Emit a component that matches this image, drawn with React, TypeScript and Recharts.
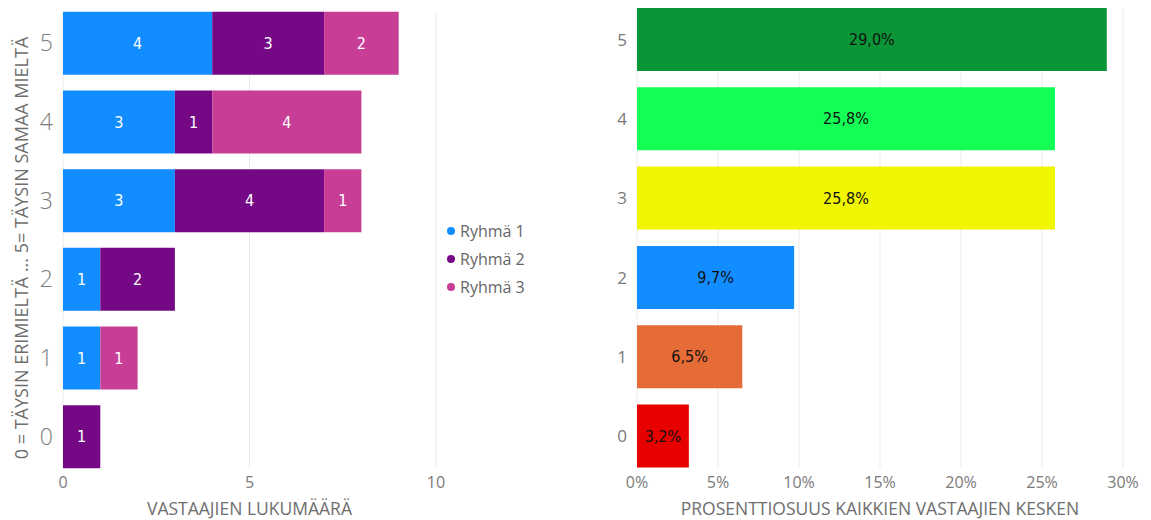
import React from "react";
import {
  BarChart,
  Bar,
  XAxis,
  YAxis,
  CartesianGrid,
  LabelList,
  Legend,
  Cell,
  Label,
} from "recharts";

// answer levels, top to bottom
const levels = ["5", "4", "3", "2", "1", "0"];

// respondents per group for each level
const group1 = [4, 3, 3, 1, 1, 0];
const group2 = [3, 1, 4, 2, 0, 1];
const group3 = [2, 4, 1, 0, 1, 0];
const groupNames = ["Ryhmä 1", "Ryhmä 2", "Ryhmä 3"];
const groupColors = ["#118DFF", "#750985", "#C83D95"];
const countTicks = [0, 5, 10];

// share of all respondents, %
const shares = [29.0, 25.8, 25.8, 9.7, 6.5, 3.2];
const shareColors = ["#0A9636", "#13FF55", "#F0F500", "#118DFF", "#E66C37", "#E80000"];
const shareTicks = [0, 5, 10, 15, 20, 25, 30];

const FONT = "'Open Sans', 'Noto Sans', sans-serif";
const LABEL_FONT = "'Liberation Sans Narrow', 'DejaVu Sans Condensed', sans-serif";
const TICK = "#7a7a7a";
const TITLE = "#6e6e6e";

const countData = levels.map((level, i) => ({
  level,
  g1: group1[i],
  g2: group2[i],
  g3: group3[i],
}));
const shareData = levels.map((level, i) => ({ level, share: shares[i] }));

const hideZero = (v: any) => (Number(v) ? v : "");
const pct = (v: any) => `${Number(v).toFixed(1).replace(".", ",")}%`;

const xTitle = (text: string) => (props: any) => {
  const vb = props.viewBox || {};
  return (
    <text
      x={vb.x + vb.width / 2}
      y={vb.y + vb.height - 5}
      textAnchor="middle"
      fill={TITLE}
      fontSize={17.5}
      fontFamily={FONT}
    >
      {text}
    </text>
  );
};

const yTitle = (text: string) => (props: any) => {
  const vb = props.viewBox || {};
  const cx = 21;
  const cy = vb.y + vb.height / 2 + 8;
  return (
    <text
      x={cx}
      y={cy}
      transform={`rotate(-90, ${cx}, ${cy})`}
      textAnchor="middle"
      dominantBaseline="central"
      fill={TITLE}
      fontSize={18}
      fontFamily={FONT}
    >
      {text}
    </text>
  );
};

function GroupLegend() {
  return (
    <div style={{ fontFamily: FONT, fontSize: 16, color: "#666" }}>
      {groupNames.map((name, i) => (
        <div key={name} style={{ height: 28.4, display: "flex", alignItems: "center" }}>
          <span
            style={{
              width: 8,
              height: 8,
              borderRadius: "50%",
              background: groupColors[i],
              marginLeft: 5,
              marginRight: 5,
            }}
          />
          <span>{name}</span>
        </div>
      ))}
    </div>
  );
}

export default function App() {
  return (
    <div
      style={{
        position: "absolute",
        left: 0,
        top: 0,
        width: 1151,
        height: 520,
        background: "#fff",
        overflow: "hidden",
      }}
    >
      <div style={{ position: "absolute", left: 0, top: 0 }}>
        <BarChart
          layout="vertical"
          width={600}
          height={520}
          data={countData}
          margin={{ top: 4, right: 164, bottom: 0, left: 0 }}
          barCategoryGap="10%"
        >
          <CartesianGrid horizontal={false} stroke="#EAEAEA" y={12} height={456} />
          <XAxis
            type="number"
            domain={[0, 10]}
            ticks={countTicks}
            interval={0}
            axisLine={false}
            tickLine={false}
            tickSize={0}
            tickMargin={1}
            height={44}
            tick={{ fill: TICK, fontSize: 16, fontFamily: FONT }}
          >
            <Label content={xTitle("VASTAAJIEN LUKUMÄÄRÄ")} />
          </XAxis>
          <YAxis
            type="category"
            dataKey="level"
            width={63}
            axisLine={false}
            tickLine={false}
            tickSize={0}
            tickMargin={10}
            tick={{ fill: TICK, fontSize: 23, fontFamily: FONT, fontWeight: 300 }}
          >
            <Label content={yTitle("0 = TÄYSIN ERIMIELTÄ ... 5= TÄYSIN SAMAA MIELTÄ")} />
          </YAxis>
          <Legend
            layout="vertical"
            align="center"
            verticalAlign="middle"
            wrapperStyle={{ left: 442, top: 216.5, width: 150 }}
            content={() => <GroupLegend />}
          />
          <Bar dataKey="g1" name={groupNames[0]} stackId="a" fill={groupColors[0]} isAnimationActive={false}>
            <LabelList dataKey="g1" position="center" formatter={hideZero} fill="#fff" fontSize={16} fontFamily={LABEL_FONT} />
          </Bar>
          <Bar dataKey="g2" name={groupNames[1]} stackId="a" fill={groupColors[1]} isAnimationActive={false}>
            <LabelList dataKey="g2" position="center" formatter={hideZero} fill="#fff" fontSize={16} fontFamily={LABEL_FONT} />
          </Bar>
          <Bar dataKey="g3" name={groupNames[2]} stackId="a" fill={groupColors[2]} isAnimationActive={false}>
            <LabelList dataKey="g3" position="center" formatter={hideZero} fill="#fff" fontSize={16} fontFamily={LABEL_FONT} />
          </Bar>
        </BarChart>
      </div>

      <div style={{ position: "absolute", left: 590, top: 0 }}>
        <BarChart
          layout="vertical"
          width={561}
          height={520}
          data={shareData}
          margin={{ top: 0, right: 28, bottom: 0, left: 0 }}
          barCategoryGap="10%"
        >
          <CartesianGrid horizontal={false} stroke="#EAEAEA" y={8} height={460} />
          <XAxis
            type="number"
            domain={[0, 30]}
            ticks={shareTicks}
            interval={0}
            tickFormatter={(v) => `${v}%`}
            axisLine={false}
            tickLine={false}
            tickSize={0}
            tickMargin={1}
            height={44}
            tick={{ fill: TICK, fontSize: 16, fontFamily: FONT }}
          >
            <Label content={xTitle("PROSENTTIOSUUS KAIKKIEN VASTAAJIEN KESKEN")} />
          </XAxis>
          <YAxis
            type="category"
            dataKey="level"
            width={47}
            axisLine={false}
            tickLine={false}
            tickSize={0}
            tickMargin={10}
            tick={{ fill: TICK, fontSize: 17, fontFamily: FONT }}
          />
          <Bar dataKey="share" isAnimationActive={false}>
            {shareData.map((d, i) => (
              <Cell key={d.level} fill={shareColors[i]} />
            ))}
            <LabelList dataKey="share" position="center" formatter={pct} fill="#111" fontSize={16} fontFamily={LABEL_FONT} />
          </Bar>
        </BarChart>
      </div>
    </div>
  );
}
